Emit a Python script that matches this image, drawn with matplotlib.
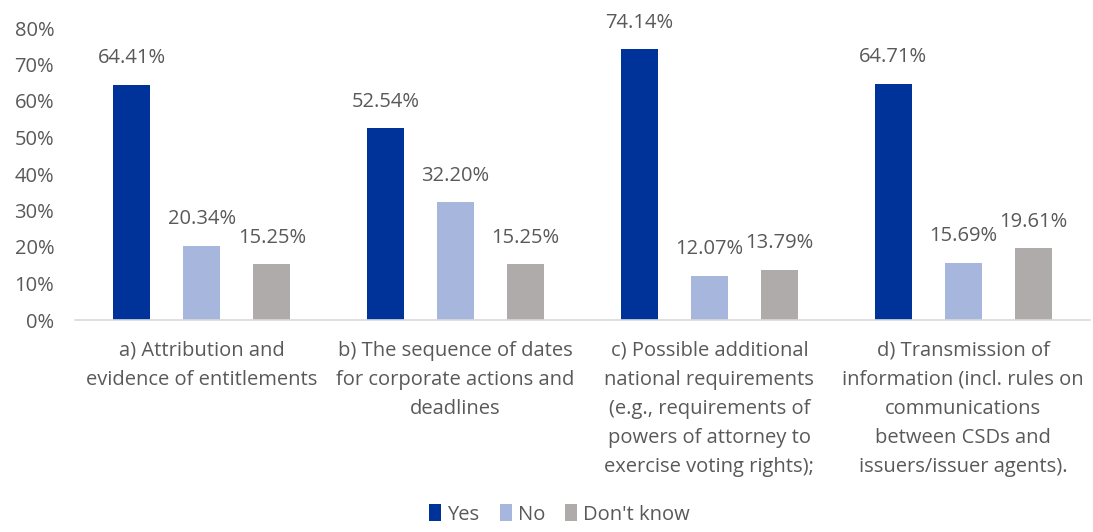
import matplotlib.pyplot as plt
import numpy as np

categories = [
    "a) Attribution and\nevidence of entitlements",
    "b) The sequence of dates\nfor corporate actions and\ndeadlines",
    "c) Possible additional\nnational requirements\n(e.g., requirements of\npowers of attorney to\nexercise voting rights);",
    "d) Transmission of\ninformation (incl. rules on\ncommunications\nbetween CSDs and\nissuers/issuer agents).",
]
series_names = ["Yes", "No", "Don't know"]
yes = [64.41, 52.54, 74.14, 64.71]
no = [20.34, 32.20, 12.07, 15.69]
dont_know = [15.25, 15.25, 13.79, 19.61]

colors = ["#003399", "#A7B6DC", "#AFABAB"]
text_color = "#595959"

plt.rcParams['font.family'] = ['Open Sans', 'DejaVu Sans']

fig = plt.figure(figsize=(10.93, 5.32), dpi=100)
ax = fig.add_axes([75 / 1093, 1 - 320 / 532, 1015 / 1093, 292 / 532])

x = np.arange(len(categories))
offset = 0.276
width = 0.146
for i, (vals, name) in enumerate(zip([yes, no, dont_know], series_names)):
    bars = ax.bar(x + (i - 1) * offset, vals, width, color=colors[i], label=name)
    for b, v in zip(bars, vals):
        ax.annotate(f"{v:.2f}%", (b.get_x() + b.get_width() / 2, v),
                    xytext=(0, 12), textcoords="offset points",
                    ha="center", va="bottom", fontsize=14.5, color=text_color)

ax.set_xlim(-0.5, len(categories) - 0.5)
ax.set_ylim(0, 80)
ax.set_yticks(np.arange(0, 81, 10))
ax.set_yticklabels([f"{t}%" for t in range(0, 81, 10)])
ax.set_xticks(x)
ax.set_xticklabels(categories, linespacing=1.6)
ax.tick_params(axis="y", length=0, labelsize=14.5, labelcolor=text_color, pad=15)
ax.tick_params(axis="x", length=0, labelsize=14.5, labelcolor=text_color, pad=15)

for side in ["top", "right", "left"]:
    ax.spines[side].set_visible(False)
ax.spines["bottom"].set_color("#D9D9D9")
ax.spines["bottom"].set_linewidth(1.2)

fig.legend(loc="lower center", bbox_to_anchor=(0.512, -0.02), ncol=3, frameon=False,
           fontsize=14.5, labelcolor=text_color, handlelength=0.6, handleheight=0.9,
           handletextpad=0.3, columnspacing=1.0)

fig.savefig("out.png", dpi=100)
